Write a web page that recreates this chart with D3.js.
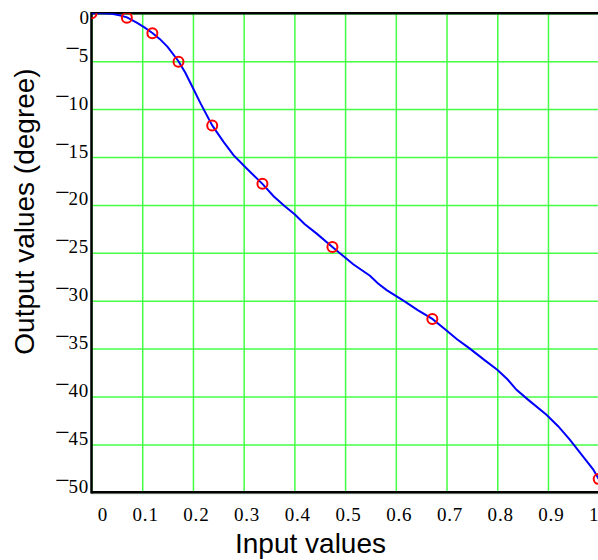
<!DOCTYPE html>
<html>
<head>
<meta charset="utf-8">
<script src="https://cdn.jsdelivr.net/npm/d3@7"></script>
<style>
html,body{margin:0;padding:0;background:#fff;overflow:hidden;}
svg{display:block;}
</style>
</head>
<body>
<svg id="chart" width="598" height="560"></svg>
<script>
// ---- data ----
const xTicks = [0, 0.1, 0.2, 0.3, 0.4, 0.5, 0.6, 0.7, 0.8, 0.9, 1];
const xTickLabels = ["0", "0.1", "0.2", "0.3", "0.4", "0.5", "0.6", "0.7", "0.8", "0.9", "1"];
const yTicks = [0, -5, -10, -15, -20, -25, -30, -35, -40, -45, -50];
const yTickLabels = ["0", "5", "10", "15", "20", "25", "30", "35", "40", "45", "50"];
const curveX = [0, 0.02, 0.04, 0.055, 0.07, 0.09, 0.105, 0.12, 0.135, 0.15, 0.1715, 0.185, 0.2, 0.215, 0.238, 0.26, 0.28, 0.306, 0.337, 0.359, 0.38, 0.401, 0.42, 0.444, 0.475, 0.5, 0.516, 0.549, 0.565, 0.582, 0.6, 0.615, 0.644, 0.672, 0.7, 0.72, 0.746, 0.775, 0.8, 0.82, 0.838, 0.86, 0.897, 0.92, 0.943, 0.965, 0.989, 1.0];
const curveY = [0, 0.0, -0.05, -0.2, -0.42, -1.0, -1.5, -2.05, -2.7, -3.5, -5.0, -6.2, -7.8, -9.4, -11.7, -13.4, -14.8, -16.2, -17.8, -19.1, -20.1, -21.0, -22.0, -23.0, -24.4, -25.5, -26.2, -27.4, -28.2, -28.9, -29.5, -30.0, -31.0, -31.9, -33.1, -34.0, -35.0, -36.2, -37.2, -38.2, -39.3, -40.3, -41.9, -43.1, -44.5, -46.0, -47.6, -48.6];
const markerX = [0, 0.0697, 0.120, 0.1715, 0.238, 0.337, 0.475, 0.672, 1.0];
const markerY = [0, -0.46, -2.09, -5.05, -11.7, -17.8, -24.4, -31.9, -48.6];
const xTitle = "Input values";
const yTitle = "Output values (degree)";

// ---- layout ----
const svg = d3.select("#chart");
const L = 91.5, R = 598.7, T = 13.3, B = 492.3;
const x = d3.scaleLinear().domain([0, 1]).range([L, R]);
const y = d3.scaleLinear().domain([-50, 0]).range([B, T]);
const serif = "'Liberation Serif', 'Times New Roman', serif";

svg.append("defs").append("clipPath").attr("id", "plotclip")
  .append("rect").attr("x", L).attr("y", T).attr("width", R - L).attr("height", B - T);

// grid + x labels
const gx = svg.append("g").attr("transform", `translate(0,${B})`)
  .call(d3.axisBottom(x).tickValues(xTicks).tickSize(-(B - T)).tickPadding(0)
    .tickFormat((d, i) => xTickLabels[i]));
gx.select(".domain").remove();
gx.selectAll(".tick line").attr("stroke", "#44ff44").attr("stroke-width", 1.5);
gx.selectAll(".tick text")
  .attr("font-family", serif)
  .attr("font-size", 19).attr("letter-spacing", 0.8).attr("fill", "#000")
  .attr("y", 29).attr("dy", 0)
  .attr("text-anchor", "end")
  .attr("x", (d, i) => i === xTicks.length - 1 ? 0 : 16);

const gy = svg.append("g").attr("transform", `translate(${L},0)`)
  .call(d3.axisLeft(y).tickValues(yTicks).tickSize(-(R - L)).tickPadding(2.5)
    .tickFormat((d, i) => yTickLabels[i]));
gy.select(".domain").remove();
gy.selectAll(".tick line").attr("stroke", "#44ff44").attr("stroke-width", 1.5);
gy.selectAll(".tick text").each(function (d, i) {
  const t = d3.select(this);
  t.text(null)
    .attr("font-family", serif)
    .attr("font-size", 19).attr("fill", "#000")
    .attr("text-anchor", "end").attr("dy", 10.6);
  if (d < 0) {
    t.append("tspan").attr("font-size", 26).attr("dy", -4.3).text("\u2212");
    t.append("tspan").attr("font-size", 19).attr("letter-spacing", 0.8).attr("dy", 4.3).attr("dx", -1.5).text(yTickLabels[i]);
  } else {
    t.append("tspan").text(yTickLabels[i]);
  }
});

// frame
svg.append("line").attr("x1", L).attr("x2", R + 2).attr("y1", T).attr("y2", T)
  .attr("stroke", "#000").attr("stroke-width", 2.5);
svg.append("line").attr("x1", L).attr("x2", R + 2).attr("y1", B + 1.5).attr("y2", B + 1.5)
  .attr("stroke", "#ccc").attr("stroke-width", 1);
svg.append("line").attr("x1", L).attr("x2", R + 2).attr("y1", B).attr("y2", B)
  .attr("stroke", "#000").attr("stroke-width", 2.5);
svg.append("line").attr("x1", L).attr("x2", L).attr("y1", T - 1.2).attr("y2", B + 1.2)
  .attr("stroke", "#000").attr("stroke-width", 2.5);

// curve
const curveData = curveX.map((v, i) => [v, curveY[i]]);
svg.append("path").datum(curveData)
  .attr("clip-path", "url(#plotclip)")
  .attr("fill", "none").attr("stroke", "#0000ff").attr("stroke-width", 2)
  .attr("d", d3.line().x(d => x(d[0])).y(d => y(d[1])).curve(d3.curveLinear));

// markers
const markerData = markerX.map((v, i) => [v, markerY[i]]);
svg.append("g").attr("clip-path", "url(#plotclip)")
  .selectAll("circle").data(markerData).join("circle")
  .attr("cx", d => x(d[0])).attr("cy", d => y(d[1])).attr("r", 5)
  .attr("fill", "none").attr("stroke", "#ff0000").attr("stroke-width", 2);

// titles
svg.append("text").attr("x", 310.5).attr("y", 553).attr("text-anchor", "middle")
  .attr("font-family", "'Liberation Sans', Arial, sans-serif").attr("font-size", 28)
  .attr("fill", "#000").text(xTitle);
svg.append("text").attr("transform", "translate(34,211.5) rotate(-90)")
  .attr("text-anchor", "middle")
  .attr("font-family", "'Liberation Sans', Arial, sans-serif").attr("font-size", 28)
  .attr("fill", "#000").text(yTitle);
</script>
</body>
</html>
